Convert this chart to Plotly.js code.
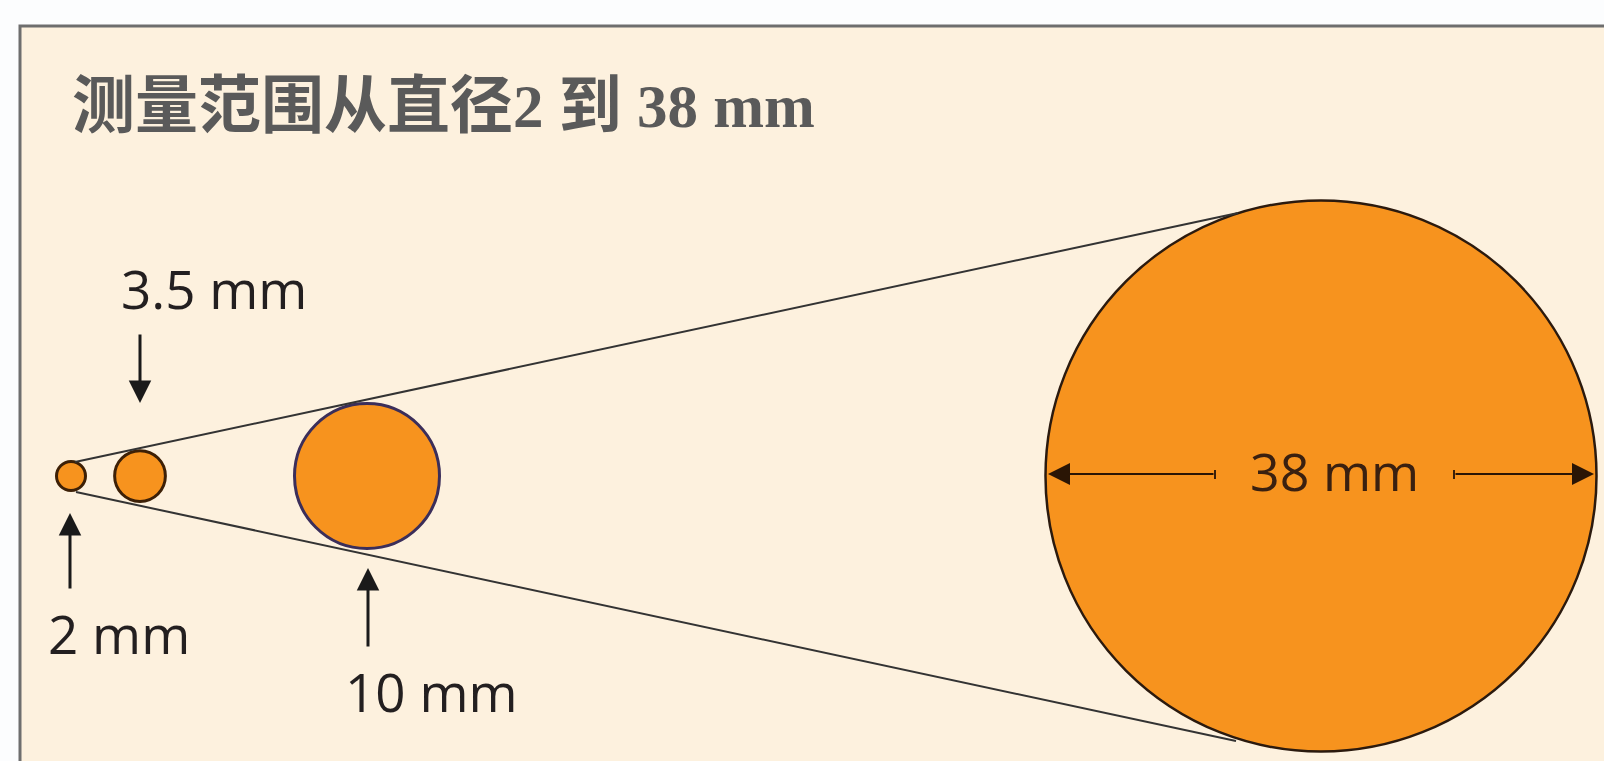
<!DOCTYPE html>
<html>
<head>
<meta charset="utf-8">
<script src="https://cdn.plot.ly/plotly-3.0.1.min.js"></script>
<style>html,body{margin:0;padding:0;background:#FCFDFE;}#chart{width:1604px;height:761px;}</style>
</head>
<body>
<div id="chart"></div>
<script>
// ---- data ----
const titleText = "测量范围从直径2 到 38 mm";
const diametersMm = [2, 3.5, 10, 38];
const sizeLabels = ["2 mm", "3.5 mm", "10 mm", "38 mm"];

// ---- layout constants (pixels) ----
const W = 1604, H = 761;
const K = 14.5;            // pixels per mm on the drawing
const CY = 476;            // pixel row of the circles' centre line
const centerPx = [71, 140, 367, 1321];
const mx = p => p / K;
const my = p => (CY - p) / K;

const orange = "#F7931E";
const strokes = ["#3d2006", "#3d2006", "#3b2e5a", "#2b1a0e"];
const strokeW = [3, 3, 3, 2.5];

const shapes = [];
// frame
shapes.push({type:"rect", xref:"paper", yref:"paper", layer:"below",
  x0: 20/W, x1: 1.05, y0: -0.05, y1: 1 - 26/H,
  fillcolor:"#FDF1DE", line:{color:"#6e6e6e", width:3}});
// circles
diametersMm.forEach((d, i) => {
  const c = mx(centerPx[i]);
  shapes.push({type:"circle", xref:"x", yref:"y", layer:"below",
    x0: c - d/2, x1: c + d/2, y0: -d/2, y1: d/2,
    fillcolor: orange, line:{color: strokes[i], width: strokeW[i]}});
});
// end ticks of the 38 mm dimension line
[1215, 1454].forEach(px => {
  shapes.push({type:"line", xref:"x", yref:"y", layer:"above",
    x0: mx(px), x1: mx(px), y0: my(470), y1: my(479),
    line:{color:"#3a1f0a", width:2}});
});

// cone lines (from the smallest circle to the largest)
const traces = [
  {x:[mx(75), mx(1238)], y:[my(462), my(213)], mode:"lines",
   line:{color:"#333333", width:2}, hoverinfo:"skip", showlegend:false},
  {x:[mx(76), mx(1236)], y:[my(492), my(741)], mode:"lines",
   line:{color:"#333333", width:2}, hoverinfo:"skip", showlegend:false}
];

const labelFont = {family:"'Open Sans', 'Noto Sans', sans-serif", size:53, color:"#231f20"};
const annotations = [];
// title: CJK runs slightly larger than the Latin serif runs
const titleHtml = "<b>" + titleText.replace(/([\u4e00-\u9fff]+)/g,
  '<span style="font-size:63px">$1</span>') + "</b>";
annotations.push({xref:"x", yref:"y", x: mx(70), y: my(106), xanchor:"left", yanchor:"middle",
  text: titleHtml, showarrow:false,
  font:{family:"'Liberation Serif', 'Noto Sans CJK SC', serif", size:61, color:"#5a5a5a"}});

// arrows: [tipX, tipY, tailX, tailY, width, size, color]
const arrows = [
  [70, 513, 70, 590, 3, 1.5, "#1a1a1a"],
  [140, 403, 140, 333, 3, 1.5, "#1a1a1a"],
  [368, 568, 368, 648, 3, 1.5, "#1a1a1a"],
  [1048, 474, 1215, 474, 2, 2.2, "#2a1505"],
  [1594, 474, 1454, 474, 2, 2.2, "#2a1505"]
];
arrows.forEach(a => {
  annotations.push({xref:"x", yref:"y", axref:"x", ayref:"y",
    x: mx(a[0]), y: my(a[1]), ax: mx(a[2]), ay: my(a[3]),
    text:"", showarrow:true, arrowhead:2, arrowwidth:a[4], arrowsize:a[5],
    arrowcolor:a[6], standoff:0, startstandoff:0});
});

// size labels: [leftX, centreY]
const labelPos = [[46, 633], [119, 288], [343, 691], [1248, 470]];
sizeLabels.forEach((t, i) => {
  annotations.push({xref:"x", yref:"y", x: mx(labelPos[i][0]), y: my(labelPos[i][1]),
    xanchor:"left", yanchor:"middle", text:t, showarrow:false,
    font: Object.assign({}, labelFont, i === 3 ? {color:"#3a2010", size:52} : {})});
});

const layout = {
  width: W, height: H, autosize:false,
  margin:{l:0, r:0, t:0, b:0, pad:0},
  paper_bgcolor:"#FCFDFE", plot_bgcolor:"rgba(0,0,0,0)",
  xaxis:{range:[0, W/K], visible:false, fixedrange:true, showgrid:false, zeroline:false},
  yaxis:{range:[my(H), my(0)], visible:false, fixedrange:true, showgrid:false, zeroline:false},
  shapes: shapes, annotations: annotations, showlegend:false
};
Plotly.newPlot("chart", traces, layout, {displayModeBar:false, staticPlot:true});
</script>
</body>
</html>
